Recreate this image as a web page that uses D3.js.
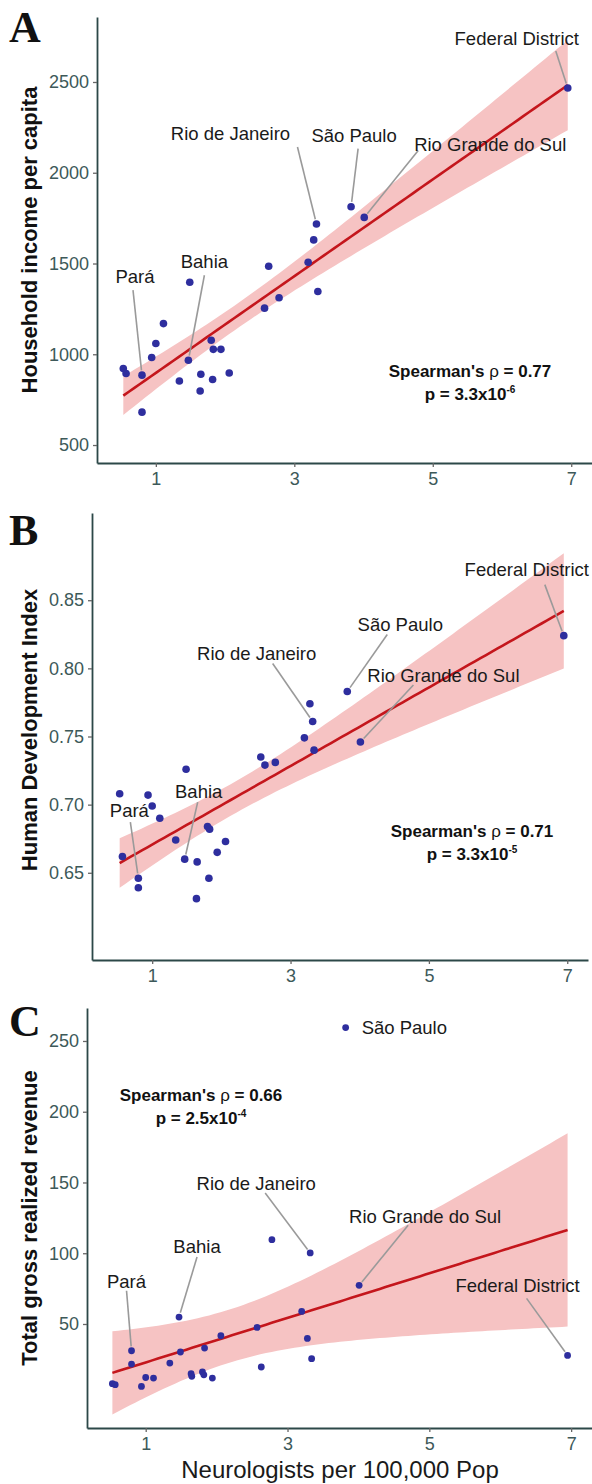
<!DOCTYPE html>
<html>
<head>
<meta charset="utf-8">
<script src="https://cdn.jsdelivr.net/npm/d3@7"></script>
<style>
body { margin: 0; background: #fff; }
svg { display: block; font-family: "Liberation Sans", Arial, sans-serif; }
</style>
</head>
<body>
<svg id="chart" width="592" height="1484"></svg>
<script>
// one entry per state, same order in every array
const states = ["Federal District", "São Paulo", "Rio de Janeiro", "Rio Grande do Sul", "Santa Catarina",
  "Paraná", "Mato Grosso do Sul", "Espírito Santo", "Minas Gerais", "Goiás", "Mato Grosso", "Bahia",
  "Rondônia", "Tocantins", "Roraima", "Amapá", "Acre", "Pará", "Maranhão", "Rio Grande do Norte",
  "Ceará", "Sergipe", "Amazonas", "Paraíba", "Piauí", "Pernambuco", "Alagoas"];
const neuro = [6.95, 3.82, 3.32, 4.01, 3.28, 3.20, 2.63, 3.34, 2.78, 2.57, 1.49, 1.47,
  1.11, 1.00, 0.94, 0.53, 0.57, 0.80, 0.80, 1.80, 1.83, 1.94, 1.34, 1.65, 1.82, 2.06, 1.64];
const income = [2467, 1813, 1718, 1754, 1630, 1507, 1485, 1346, 1311, 1254, 1397, 967,
  1169, 1059, 982, 921, 894, 885, 681, 1077, 1027, 1027, 853, 890, 861, 897, 798];
const hdi = [0.824, 0.783, 0.761, 0.746, 0.774, 0.749, 0.729, 0.740, 0.731, 0.735, 0.726, 0.660,
  0.690, 0.699, 0.707, 0.708, 0.662, 0.646, 0.639, 0.684, 0.682, 0.665, 0.674, 0.658, 0.646, 0.673, 0.631];
const revenue = [27.8, 259.5, 100.2, 77.3, 39.8, 58.9, 19.6, 25.5, 109.6, 47.6, 30.2, 54.9,
  11.8, 12.2, 5.9, 7.8, 7.1, 31.1, 21.7, 16.1, 33.0, 11.8, 22.4, 13.0, 14.1, 41.7, 14.9];

const xTicks = [1, 3, 5, 7];
const incomeTicks = [500, 1000, 1500, 2000, 2500];
const hdiTicks = [0.65, 0.70, 0.75, 0.80, 0.85];
const revenueTicks = [50, 100, 150, 200, 250];

const rhoText = ["0.77", "0.71", "0.66"];
const pMant = ["3.3", "3.3", "2.5"];
const pExp = ["-6", "-5", "-4"];

const svg = d3.select("#chart");
const axisCol = "#2c4848";
const tickCol = "#3d5959";
const tcrit = 2.06; // t(0.975, df = 25)

/* label placement: [dx, dy] of label, [lx, ly] start of leader, relative to the point (px) */
const panels = [
  {
    letter: "A", letterY: 42, vals: income, ticks: incomeTicks, fmt: d3.format("d"),
    title: "Household income per capita", titleY: 240,
    xDom: [0.15, 7.3], xRange: [97, 592], yDom: [401, 2858], yRange: [463, 17],
    r: 3.8, stats: {x: 470, y: 377, anchor: "middle"},
    labels: {
      "Federal District": [-51, -43, -12, -37],
      "São Paulo": [3, -65, 7, -58],
      "Rio de Janeiro": [-86, -84, -19, -77],
      "Rio Grande do Sul": [126, -66, 54, -67],
      "Bahia": [16, -92, 16, -85],
      "Pará": [-7, -92, -9, -85]
    }
  },
  {
    letter: "B", letterY: 545, vals: hdi, ticks: hdiTicks, fmt: d3.format(".2f"),
    title: "Human Development Index", titleY: 730,
    xDom: [0.13, 7.3], xRange: [92, 588], yDom: [0.586, 0.914], yRange: [960, 513],
    r: 3.8, stats: {x: 472, y: 837, anchor: "middle"},
    labels: {
      "Federal District": [-37, -60, -19, -51],
      "São Paulo": [53, -61, 40, -57],
      "Rio de Janeiro": [-56, -62, -40, -58],
      "Rio Grande do Sul": [83, -60, 53, -57],
      "Bahia": [14, -61, 13, -57],
      "Pará": [-9, -61, -8, -56]
    }
  },
  {
    letter: "C", letterY: 1036, vals: revenue, ticks: revenueTicks, fmt: d3.format("d"),
    title: "Total gross realized revenue", titleY: 1218,
    xDom: [0.172, 7.3], xRange: [87, 592.4], yDom: [-23.5, 273.3], yRange: [1428, 1008],
    r: 3.4, stats: {x: 201, y: 1101, anchor: "middle"},
    labels: {
      "São Paulo": [16, 6, null, null],
      "Rio de Janeiro": [-54, -63, -45, -60],
      "Rio Grande do Sul": [66, -62, 49, -60],
      "Federal District": [-50, -63, -41, -57],
      "Bahia": [18, -64, 18, -60],
      "Pará": [-5, -63, -5, -60]
    }
  }
];

panels.forEach((p, pi) => {
  const x = d3.scaleLinear().domain(p.xDom).range(p.xRange);
  const y = d3.scaleLinear().domain(p.yDom).range(p.yRange);
  const g = svg.append("g");
  const pts = states.map((s, i) => ({state: s, x: neuro[i], y: p.vals[i]}));

  /* linear fit with 95% confidence band */
  const n = pts.length;
  const mx = d3.mean(pts, d => d.x), my = d3.mean(pts, d => d.y);
  const sxx = d3.sum(pts, d => (d.x - mx) ** 2);
  const sxy = d3.sum(pts, d => (d.x - mx) * (d.y - my));
  const b = sxy / sxx, a = my - b * mx;
  const s = Math.sqrt(d3.sum(pts, d => (d.y - a - b * d.x) ** 2) / (n - 2));
  const [x0, x1] = d3.extent(pts, d => d.x);
  const grid = d3.range(81).map(k => x0 + (x1 - x0) * k / 80).map(xv => {
    const fit = a + b * xv;
    const se = s * Math.sqrt(1 / n + (xv - mx) ** 2 / sxx);
    return {x: xv, fit: fit, lo: fit - tcrit * se, hi: fit + tcrit * se};
  });

  g.append("path")
    .datum(grid)
    .attr("fill", "#f6c3c3")
    .attr("d", d3.area().x(d => x(d.x)).y0(d => y(d.lo)).y1(d => y(d.hi)));

  g.append("path")
    .datum(grid)
    .attr("fill", "none")
    .attr("stroke", "#c4161c")
    .attr("stroke-width", 2.6)
    .attr("d", d3.line().x(d => x(d.x)).y(d => y(d.fit)));

  g.selectAll("circle")
    .data(pts)
    .enter()
    .append("circle")
    .attr("cx", d => x(d.x))
    .attr("cy", d => y(d.y))
    .attr("r", p.r)
    .attr("fill", "#2e2e9e");

  /* state labels with leader lines */
  pts.filter(d => p.labels[d.state]).forEach(d => {
    const [dx, dy, lx, ly] = p.labels[d.state];
    const px = x(d.x), py = y(d.y);
    if (lx !== null) {
      const ex = -lx, ey = -ly, len = Math.hypot(ex, ey);
      const cut = p.r + 1;
      g.append("line")
        .attr("x1", px + lx).attr("y1", py + ly)
        .attr("x2", px + lx + ex * (len - cut) / len)
        .attr("y2", py + ly + ey * (len - cut) / len)
        .attr("stroke", "#9a9a9a")
        .attr("stroke-width", 1.6);
    }
    g.append("text")
      .attr("x", px + dx)
      .attr("y", py + dy)
      .attr("text-anchor", lx === null ? "start" : "middle")
      .attr("font-size", 18.5)
      .attr("fill", "#1a1a1a")
      .text(d.state);
  });

  /* axes */
  const xAxis = g.append("g")
    .attr("transform", "translate(0," + p.yRange[0] + ")")
    .call(d3.axisBottom(x).tickValues(xTicks).tickSize(4).tickSizeOuter(0).tickPadding(5));
  const yAxis = g.append("g")
    .attr("transform", "translate(" + p.xRange[0] + ",0)")
    .call(d3.axisLeft(y).tickValues(p.ticks).tickFormat(p.fmt).tickSize(4).tickSizeOuter(0).tickPadding(4));
  [xAxis, yAxis].forEach(ax => {
    ax.select(".domain").attr("stroke", axisCol).attr("stroke-width", 1.8);
    ax.selectAll(".tick line").attr("stroke", "#666").attr("stroke-width", 1.3);
    ax.selectAll(".tick text")
      .attr("fill", tickCol)
      .attr("font-size", 18)
      .attr("font-family", "Liberation Sans, Arial, sans-serif");
  });

  g.append("text")
    .attr("transform", "translate(37," + p.titleY + ") rotate(-90)")
    .attr("text-anchor", "middle")
    .attr("font-size", 22)
    .attr("font-weight", "bold")
    .attr("fill", "#111")
    .text(p.title);

  g.append("text")
    .attr("x", 9)
    .attr("y", p.letterY)
    .attr("font-family", "Liberation Serif, Times New Roman, serif")
    .attr("font-size", 44)
    .attr("font-weight", "bold")
    .attr("fill", "#111")
    .text(p.letter);

  /* Spearman annotation */
  const st = g.append("g").attr("font-weight", "bold").attr("font-size", 17).attr("fill", "#111");
  const t1 = st.append("text").attr("x", p.stats.x).attr("y", p.stats.y).attr("text-anchor", p.stats.anchor);
  t1.append("tspan").text("Spearman's ");
  t1.append("tspan").attr("font-weight", "normal").text("ρ");
  t1.append("tspan").text(" = " + rhoText[pi]);
  const t2 = st.append("text").attr("x", p.stats.x).attr("y", p.stats.y + 23).attr("text-anchor", p.stats.anchor);
  t2.append("tspan").text("p = " + pMant[pi] + "x10");
  t2.append("tspan").attr("font-size", 10).attr("dy", -7).text(pExp[pi]);
});

svg.append("text")
  .attr("x", 340)
  .attr("y", 1478)
  .attr("text-anchor", "middle")
  .attr("font-size", 24)
  .attr("fill", "#1a1a1a")
  .text("Neurologists per 100,000 Pop");
</script>
</body>
</html>
